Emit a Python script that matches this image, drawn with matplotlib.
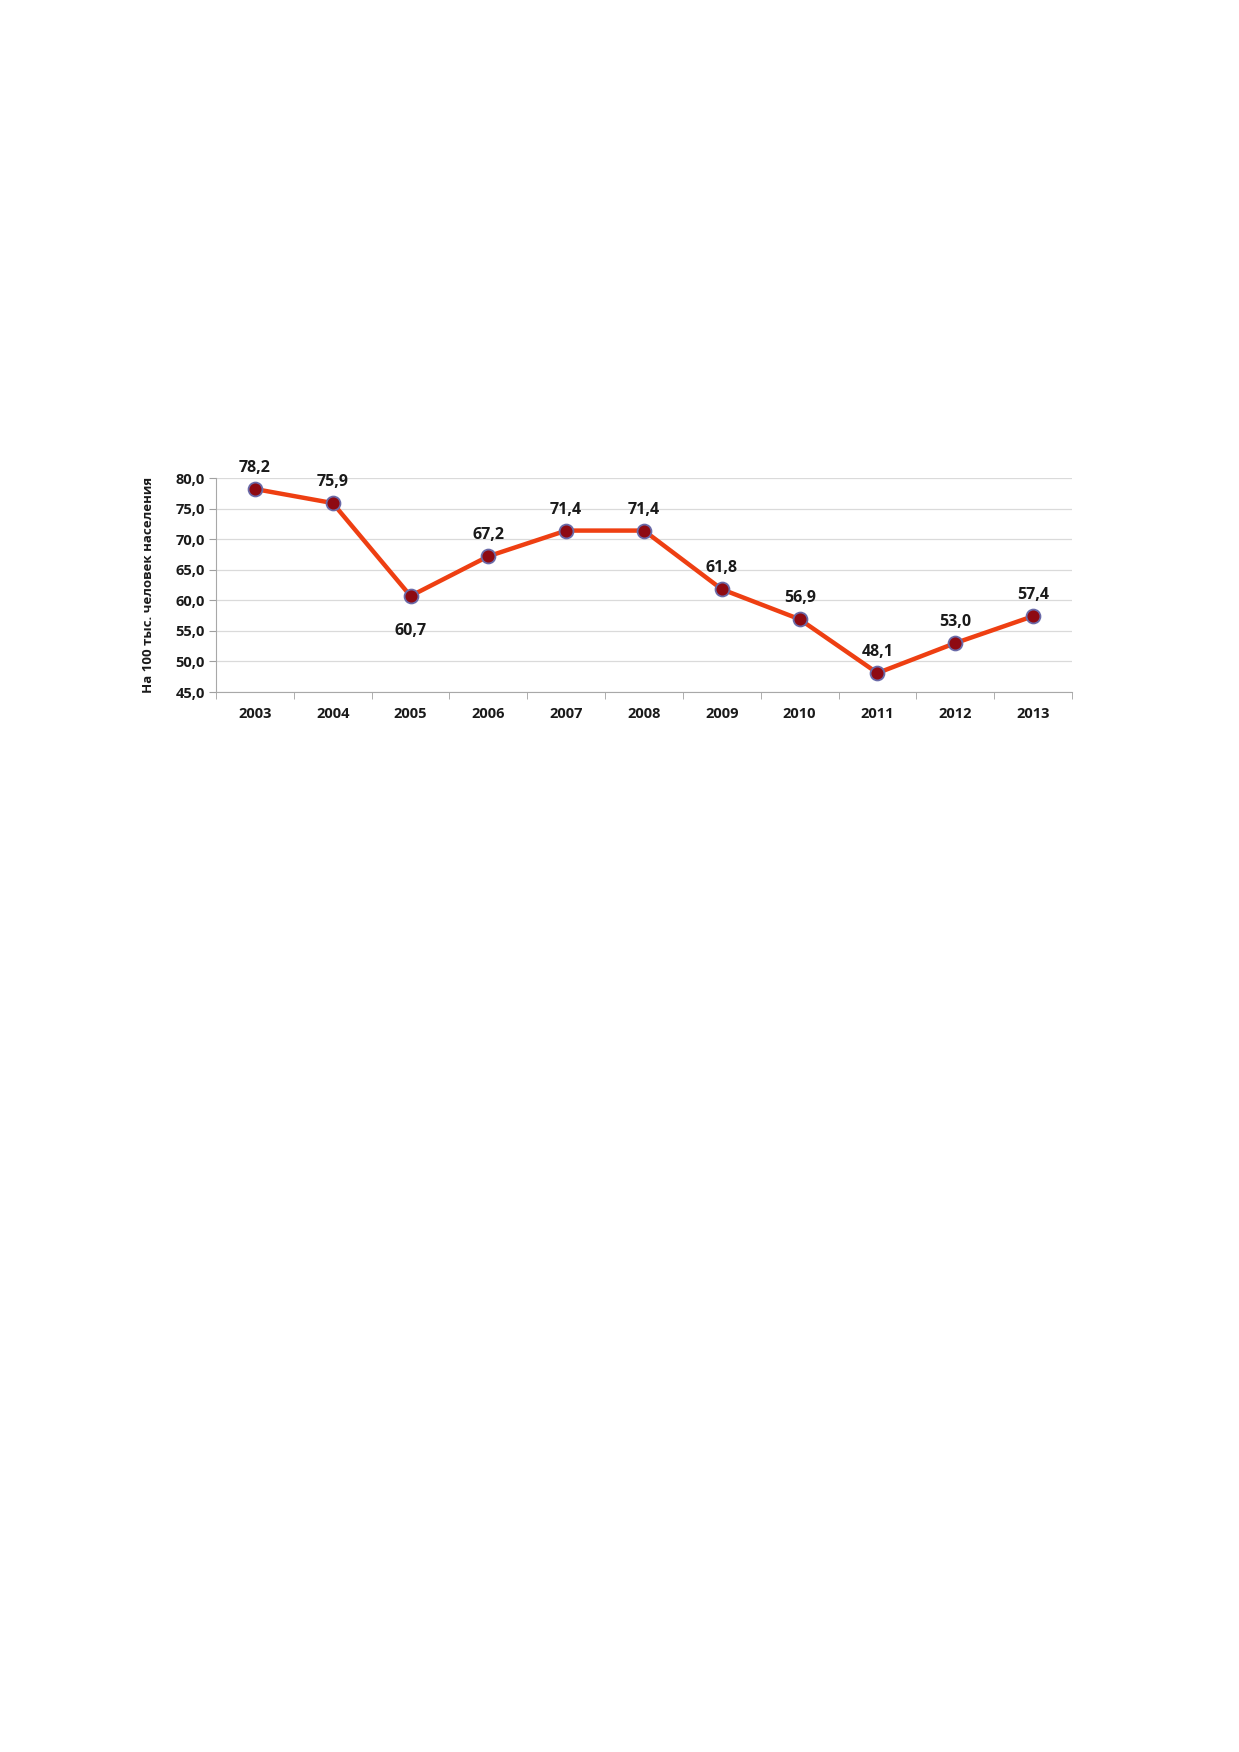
import matplotlib.pyplot as plt
import numpy as np

years = ['2003', '2004', '2005', '2006', '2007', '2008', '2009', '2010', '2011', '2012', '2013']
values = [78.2, 75.9, 60.7, 67.2, 71.4, 71.4, 61.8, 56.9, 48.1, 53.0, 57.4]
labels_below = ['2005']   # label put under the point
yticks = [45, 50, 55, 60, 65, 70, 75, 80]

plt.rcParams['font.family'] = ['Open Sans', 'DejaVu Sans']

W, H = 1239, 1752
fig = plt.figure(figsize=(W / 100, H / 100), dpi=100)
# axes box in pixel coords of the reference
left, right, top, bottom = 216, 1072, 478, 692
ax = fig.add_axes([left / W, 1 - bottom / H, (right - left) / W, (bottom - top) / H])

x = np.arange(len(years))
ax.plot(x, values, color='#EE3F12', lw=3.2, zorder=3, solid_joinstyle='miter')
ax.plot(x, values, ls='none', marker='o', ms=10, mfc='#8E0A12', mec='#6A6AA8', mew=1.3, zorder=4)

for xi, v, yr in zip(x, values, years):
    txt = f'{v:.1f}'.replace('.', ',')
    if yr in labels_below:
        ax.annotate(txt, (xi, v), xytext=(0, -25), textcoords='offset points',
                    ha='center', va='center', fontsize=11.5, fontweight='bold', color='#1a1a1a')
    else:
        ax.annotate(txt, (xi, v), xytext=(0, 15), textcoords='offset points',
                    ha='center', va='center', fontsize=11.5, fontweight='bold', color='#1a1a1a')

ax.set_xlim(-0.5, len(years) - 0.5)
ax.set_ylim(45, 80)
ax.set_yticks(yticks)
ax.set_yticklabels([f'{t:.1f}'.replace('.', ',') for t in yticks], fontsize=10.5, fontweight='bold', color='#1a1a1a')
ax.set_xticks(x)
ax.set_xticklabels(years, fontsize=10.5, fontweight='bold', color='#1a1a1a')
ax.set_xticks(np.arange(-0.5, len(years)), minor=True)
ax.tick_params(axis='x', which='major', length=0, pad=11)
ax.tick_params(axis='x', which='minor', length=5, color='#A0A0A0', direction='out')
ax.tick_params(axis='y', length=5, color='#A0A0A0', pad=3)

ax.grid(axis='y', color='#DADADA', lw=0.9)
ax.set_axisbelow(True)
for s in ['top', 'right']:
    ax.spines[s].set_visible(False)
ax.spines['left'].set_color('#A8A8A8')
ax.spines['bottom'].set_color('#A8A8A8')

ax.set_ylabel('На 100 тыс. человек населения', fontsize=9.5, fontweight='bold', color='#1a1a1a', labelpad=15)

fig.savefig('out.png', dpi=100, facecolor='white')
